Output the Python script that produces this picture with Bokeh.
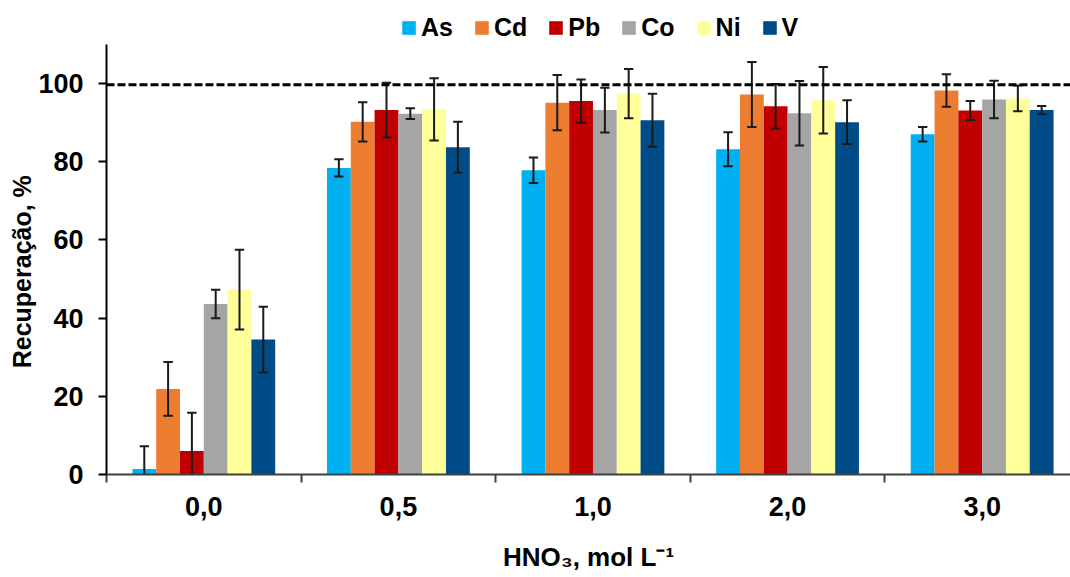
from bokeh.plotting import figure
from bokeh.models import Range1d, FixedTicker, Span, Legend, LegendItem, LinearAxis
from bokeh.embed import file_html
from bokeh.resources import INLINE

categories = ["0,0", "0,5", "1,0", "2,0", "3,0"]
metals = ["As", "Cd", "Pb", "Co", "Ni", "V"]
colors = ["#00B0F0", "#ED7D31", "#C00000", "#A5A5A5", "#FFFF99", "#004C86"]

As = [1.4, 78.4, 77.8, 83.2, 87.0]
Cd = [21.9, 90.2, 95.1, 97.2, 98.2]
Pb = [6.0, 93.2, 95.5, 94.2, 93.1]
Co = [43.6, 92.3, 93.2, 92.4, 95.9]
Ni = [47.3, 93.4, 97.4, 95.7, 96.2]
V = [34.5, 83.7, 90.6, 90.1, 93.2]

As_err = [5.8, 2.2, 3.25, 4.35, 1.85]
Cd_err = [6.85, 5.0, 7.05, 8.3, 4.15]
Pb_err = [9.8, 7.0, 5.55, 5.7, 2.4]
Co_err = [3.65, 1.35, 5.7, 8.25, 4.8]
Ni_err = [10.2, 7.95, 6.3, 8.5, 3.3]
V_err = [8.4, 6.55, 6.8, 5.6, 1.05]

reference_line = 99.7
y_ticks = [0, 20, 40, 60, 80, 100]

series = [As, Cd, Pb, Co, Ni, V]
errors = [As_err, Cd_err, Pb_err, Co_err, Ni_err, V_err]

FONT = "Liberation Sans"
bar_w = 0.1223
cap_w = 0.024

# frame extends above the axis top (110) to leave room for the legend
p = figure(frame_width=964, frame_height=468,
           x_range=Range1d(-0.5, 4.454), y_range=Range1d(0, 119.7),
           output_backend="svg", toolbar_location=None,
           min_border_left=106, min_border_right=0, min_border_top=6,
           min_border_bottom=0)
p.outline_line_color = None
p.xgrid.visible = False
p.ygrid.visible = False
p.background_fill_color = "white"
p.border_fill_color = "white"

idx = list(range(len(categories)))
items = []
for k, (name, vals, errs, col) in enumerate(zip(metals, series, errors, colors)):
    off = (k - 2.5) * bar_w
    xs = [i + off for i in idx]
    r = p.vbar(x=xs, top=vals, width=bar_w, bottom=0, fill_color=col,
               line_color=None)
    items.append(LegendItem(label=name, renderers=[r]))
    up = [v + e for v, e in zip(vals, errs)]
    lo = [v - e for v, e in zip(vals, errs)]
    p.segment(x0=xs, y0=lo, x1=xs, y1=up, line_color="#1a1a1a", line_width=2)
    p.segment(x0=[x - cap_w for x in xs], y0=up, x1=[x + cap_w for x in xs],
              y1=up, line_color="#1a1a1a", line_width=2)
    p.segment(x0=[x - cap_w for x in xs], y0=lo, x1=[x + cap_w for x in xs],
              y1=lo, line_color="#1a1a1a", line_width=2)

p.add_layout(Span(location=reference_line, dimension="width", line_color="black",
                  line_width=3, line_dash="8 3"))

legend = Legend(items=items, orientation="horizontal", location=(294, 432),
                glyph_width=17, glyph_height=17, label_standoff=4, spacing=20,
                padding=0, margin=0, border_line_color=None,
                background_fill_alpha=0,
                label_text_font=FONT, label_text_font_style="bold",
                label_text_font_size="25px", label_text_color="black")
p.add_layout(legend, "center")

# y axis
yax = p.yaxis[0]
yax.bounds = (0, 110)
yax.ticker = FixedTicker(ticks=y_ticks)
yax.axis_line_color = "black"
yax.axis_line_width = 2
yax.major_tick_line_color = "black"
yax.major_tick_line_width = 2
yax.major_tick_out = 8
yax.major_tick_in = 0
yax.minor_tick_line_color = None
yax.major_label_standoff = 15
yax.major_label_text_font = FONT
yax.major_label_text_font_style = "bold"
yax.major_label_text_font_size = "27px"
yax.major_label_text_color = "black"

# outer axis that only carries the y title (trailing no-break spaces
# lower the centred title to where the reference shows it)
ylab = LinearAxis(ticker=FixedTicker(ticks=[]), bounds=(0, 110),
                  axis_line_color=None, major_tick_line_color=None,
                  minor_tick_line_color=None, major_tick_out=0, major_tick_in=0,
                  minor_tick_out=0, minor_tick_in=0, major_label_standoff=0,
                  axis_label="Recuperação, %" + "\u00a0" * 9, axis_label_standoff=0,
                  axis_label_text_font=FONT, axis_label_text_font_style="bold",
                  axis_label_text_font_size="25px", axis_label_text_color="black")
p.add_layout(ylab, "left")

# x axis
xax = p.xaxis[0]
xax.ticker = FixedTicker(ticks=idx, minor_ticks=[i - 0.5 for i in idx] + [len(idx) - 0.5])
xax.major_label_overrides = {i: c for i, c in zip(idx, categories)}
xax.axis_line_color = "#404040"
xax.axis_line_width = 2
xax.major_tick_line_color = None
xax.major_tick_out = 0
xax.major_tick_in = 0
xax.minor_tick_line_color = "#404040"
xax.minor_tick_line_width = 2
xax.minor_tick_out = 8
xax.minor_tick_in = 0
xax.major_label_standoff = 14
xax.major_label_text_font = FONT
xax.major_label_text_font_style = "bold"
xax.major_label_text_font_size = "27px"
xax.major_label_text_color = "black"
xax.axis_label = "HNO₃, mol L⁻¹"
xax.axis_label_text_font = FONT
xax.axis_label_text_font_style = "bold"
xax.axis_label_text_font_size = "26px"
xax.axis_label_text_color = "black"
xax.axis_label_standoff = 23

open("out.html", "w").write(file_html(p, INLINE))
